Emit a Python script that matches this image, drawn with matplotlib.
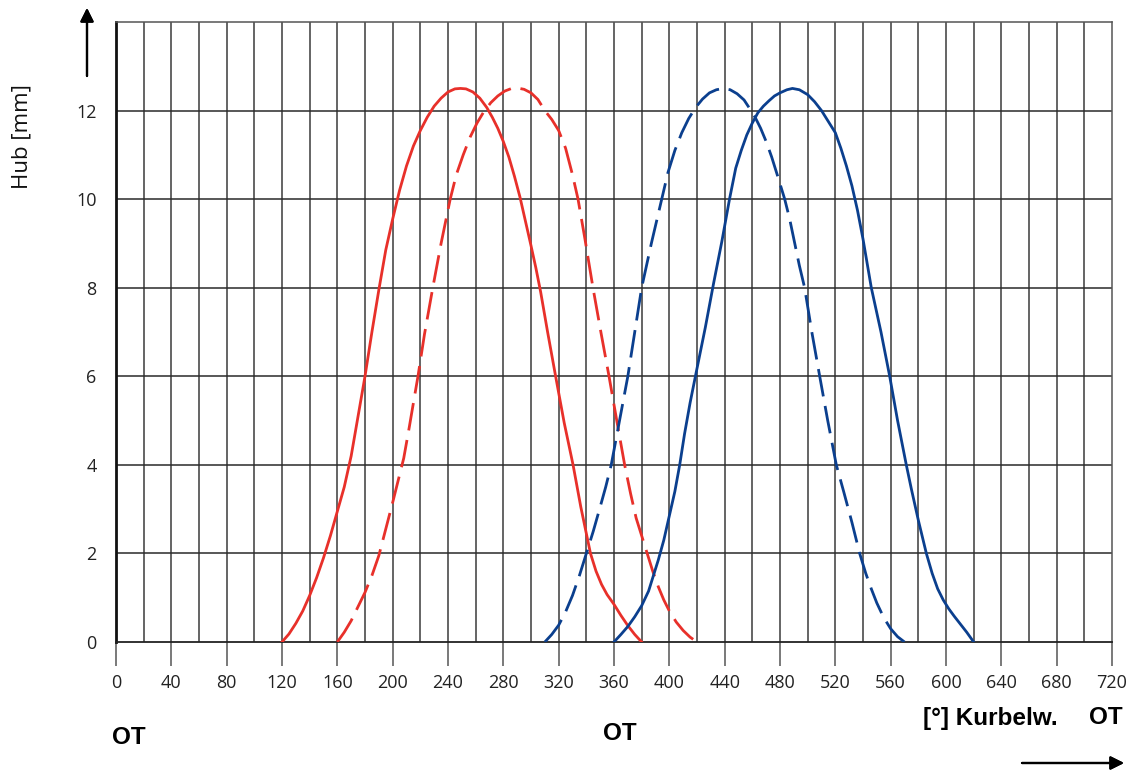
import matplotlib
matplotlib.use("Agg")
import matplotlib.pyplot as plt

# ---- data ----
red_solid_x = [120, 125, 130, 135, 140, 145, 150, 155, 160, 165, 170, 175, 180, 185, 190, 195, 200, 205, 210,
               215, 220, 225, 230, 235, 240, 245, 249, 253, 258, 263, 268, 272, 276, 280, 284, 288, 292, 296,
               300, 303.5, 307, 312, 317.8, 324, 330.4, 336, 340, 343, 347, 351, 355, 360, 365, 370, 375, 380]
red_solid_y = [0, 0.18, 0.42, 0.7, 1.05, 1.45, 1.9, 2.4, 2.95, 3.5, 4.2, 5.1, 6.0, 7.0, 7.95, 8.85, 9.55, 10.2,
               10.75, 11.2, 11.55, 11.85, 12.1, 12.28, 12.42, 12.49, 12.5, 12.49, 12.42, 12.28, 12.07, 11.85,
               11.6, 11.3, 10.95, 10.52, 10.05, 9.5, 8.95, 8.45, 7.9, 7.0, 6.0, 4.95, 4.0, 3.05, 2.45, 2.0, 1.6,
               1.3, 1.07, 0.85, 0.6, 0.37, 0.17, 0]

red_dash_x = [160, 165, 170, 175, 180, 185, 190, 195, 200, 204, 208, 212, 215, 218.3, 223, 229, 235, 241.6, 246,
              251, 256, 261, 266, 271, 276, 281, 286, 290, 295, 300, 305, 310, 315, 320, 325, 330, 334, 339,
              344.8, 350.5, 356.4, 362, 367.7, 372, 376, 380, 384, 388, 392, 396, 400, 405, 410, 415, 420]
red_dash_y = [0, 0.22, 0.48, 0.8, 1.12, 1.5, 1.95, 2.55, 3.15, 3.65, 4.15, 4.85, 5.4, 6.0, 6.95, 8.0, 9.0, 10.0,
              10.55, 11.0, 11.4, 11.72, 11.98, 12.18, 12.33, 12.44, 12.5, 12.51, 12.48, 12.4, 12.25, 12.0, 11.8,
              11.55, 11.15, 10.55, 10.0, 9.1, 8.0, 7.0, 6.0, 5.0, 4.0, 3.35, 2.8, 2.4, 2.0, 1.6, 1.25, 0.95,
              0.7, 0.45, 0.26, 0.11, 0]

blue_dash_x = [310, 315, 320, 325, 330, 335, 340, 345, 350, 354, 358, 361, 364, 367, 370, 375, 380, 387, 394.5,
               399, 404, 409, 414, 419, 424, 429, 434, 439, 444, 449, 454, 458, 462, 466, 470, 474, 478, 483.4,
               487, 491, 494, 497.8, 503, 508.7, 514.5, 520.7, 526, 532, 537.6, 542, 546, 550, 555, 560, 565, 570]
blue_dash_y = [0, 0.17, 0.38, 0.68, 1.05, 1.5, 2.0, 2.5, 3.05, 3.5, 4.0, 4.5, 5.0, 5.5, 6.0, 7.0, 8.0, 9.0, 10.0,
               10.6, 11.1, 11.5, 11.82, 12.07, 12.26, 12.4, 12.47, 12.5, 12.47, 12.38, 12.24, 12.05, 11.85, 11.6,
               11.3, 10.95, 10.55, 10.0, 9.55, 8.95, 8.5, 8.0, 7.0, 6.0, 5.0, 4.0, 3.4, 2.7, 2.0, 1.55, 1.2, 0.88,
               0.55, 0.3, 0.12, 0]

blue_solid_x = [360, 365, 370, 375, 380, 385, 388, 392, 396, 400, 404, 407.5, 411, 415, 419.5, 426, 432, 438,
                443.5, 448, 452, 456, 460, 464, 468, 472, 476, 480, 485, 489, 494, 500, 505, 510, 515, 520, 524,
                528, 532, 536, 540, 546, 553, 559.3, 565, 571.3, 575, 580, 585.8, 590, 594, 598, 602, 606, 610,
                615, 620]
blue_solid_y = [0, 0.17, 0.35, 0.57, 0.82, 1.15, 1.45, 1.85, 2.3, 2.85, 3.4, 4.0, 4.7, 5.4, 6.1, 7.1, 8.1, 9.05,
                10.0, 10.7, 11.1, 11.45, 11.72, 11.95, 12.1, 12.22, 12.33, 12.4, 12.47, 12.5, 12.47, 12.36, 12.2,
                12.0, 11.75, 11.5, 11.15, 10.75, 10.3, 9.75, 9.1, 8.0, 7.0, 6.0, 5.0, 4.0, 3.45, 2.75, 2.0, 1.55,
                1.2, 0.95, 0.75, 0.58, 0.42, 0.22, 0]

x_ticks = [0, 40, 80, 120, 160, 200, 240, 280, 320, 360, 400, 440, 480, 520, 560, 600, 640, 680, 720]
y_ticks = [0, 2, 4, 6, 8, 10, 12]

RED = "#e8302a"
BLUE = "#0b3f8e"

fig = plt.figure(figsize=(11.32, 7.71), dpi=100)
ax = fig.add_axes([116 / 1132, 1 - 642 / 771, (1112 - 116) / 1132, (642 - 22) / 771])
ax.set_xlim(0, 720)
ax.set_ylim(0, 14)

# grid
for gx in range(20, 720, 20):
    ax.axvline(gx, color="#3a3a3a", lw=1.1, zorder=1)
for gy in range(2, 14, 2):
    ax.axhline(gy, color="#2a2a2a", lw=1.1, zorder=1)

lw = 2.0
ax.plot(red_solid_x, red_solid_y, color=RED, lw=lw, zorder=3, solid_joinstyle="round")
ax.plot(red_dash_x, red_dash_y, color=RED, lw=lw, zorder=3, dashes=(10, 3.5))
ax.plot(blue_dash_x, blue_dash_y, color=BLUE, lw=lw, zorder=3, dashes=(10, 3.5))
ax.plot(blue_solid_x, blue_solid_y, color=BLUE, lw=lw, zorder=3, solid_joinstyle="round")

for side in ["top", "right"]:
    ax.spines[side].set_color("#555555")
    ax.spines[side].set_linewidth(1.1)
ax.spines["left"].set_color("#111111")
ax.spines["left"].set_linewidth(2.0)
ax.spines["bottom"].set_color("#222222")
ax.spines["bottom"].set_linewidth(1.3)

ax.set_xticks(x_ticks)
ax.set_xticklabels([str(v) for v in x_ticks])
ax.set_yticks(y_ticks)
ax.set_yticklabels([str(v) for v in y_ticks])
ax.tick_params(axis="x", length=17, width=1.1, color="#555555", pad=6,
               labelsize=13, labelcolor="#222222")
ax.tick_params(axis="y", length=0, pad=14, labelsize=13, labelcolor="#222222")
for lab in ax.get_xticklabels() + ax.get_yticklabels():
    lab.set_family(["Open Sans", "DejaVu Sans"])

fig.text(22 / 1132, 1 - 137 / 771, "Hub [mm]", rotation=90, ha="center", va="center",
         fontsize=16, family=["Open Sans", "DejaVu Sans"], color="#111111")

bold = dict(fontsize=17.5, fontweight="bold", family=["Liberation Sans", "DejaVu Sans"], color="black")
fig.text(129 / 1132, 1 - 737 / 771, "OT", ha="center", va="center", **bold)
fig.text(620 / 1132, 1 - 733 / 771, "OT", ha="center", va="center", **bold)
fig.text(1058 / 1132, 1 - 718 / 771, "[°] Kurbelw.", ha="right", va="center", **bold)
fig.text(1106 / 1132, 1 - 718 / 771, "OT", ha="center", va="center", **bold)

ap = dict(arrowstyle="-|>", lw=1.6, color="black", mutation_scale=20, shrinkA=0, shrinkB=0)
fig.add_artist(plt.annotate("", xy=(87, 771 - 8), xytext=(87, 771 - 76), xycoords="figure pixels",
                            textcoords="figure pixels", arrowprops=ap, annotation_clip=False))
fig.add_artist(plt.annotate("", xy=(1124, 771 - 763), xytext=(1022, 771 - 763), xycoords="figure pixels",
                            textcoords="figure pixels", arrowprops=ap, annotation_clip=False))

fig.savefig("out.png", dpi=100)
